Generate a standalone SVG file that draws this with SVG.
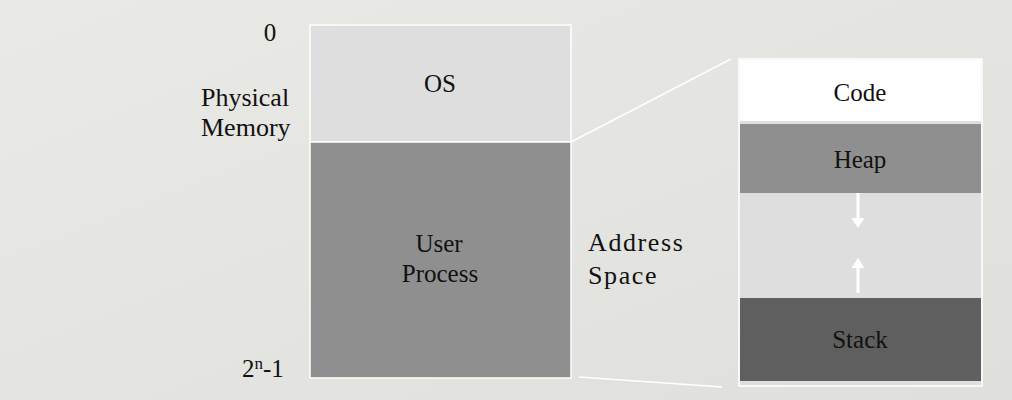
<svg xmlns="http://www.w3.org/2000/svg" width="1012" height="400" viewBox="0 0 1012 400">
  <defs>
    <linearGradient id="bg" x1="0" y1="0" x2="1" y2="1">
      <stop offset="0" stop-color="#e9e9e6"/>
      <stop offset="1" stop-color="#dfdfdb"/>
    </linearGradient>
  </defs>
  <style>
    text { font-family: "Liberation Serif", "Times New Roman", serif; fill: #111; font-size: 25px; }
    .c { text-anchor: middle; }
    .lbl { font-size: 26px; }
    .big { font-size: 26px; letter-spacing: 1.6px; }
    .blk { stroke: #ffffff; stroke-width: 1.5; }
    .conn { stroke: #ffffff; stroke-width: 1.5; fill: none; }
    .arrow { fill: #ffffff; }
  </style>
  <rect width="1012" height="400" fill="url(#bg)"/>

  <g id="physical-labels">
    <text x="270" y="41" class="c">0</text>
    <text x="201" y="106" class="lbl">Physical</text>
    <text x="201" y="136" class="lbl">Memory</text>
    <text x="242" y="377">2<tspan font-size="17" dy="-8">n</tspan><tspan dy="8">-1</tspan></text>
  </g>

  <g id="os">
    <rect class="blk" x="310" y="25" width="261" height="117" fill="#dedede"/>
    <text x="440" y="92" class="c">OS</text>
  </g>
  <g id="user-process">
    <rect class="blk" x="310" y="142" width="261" height="236" fill="#8f8f8f"/>
    <text x="439" y="252" class="c">User</text>
    <text x="440" y="282" class="c">Process</text>
  </g>

  <g id="address-space-label">
    <text x="588" y="251" class="big">Address</text>
    <text x="588" y="284" class="big">Space</text>
  </g>

  <g id="address-space">
    <rect class="blk" x="739" y="59" width="243" height="327" fill="#dedede"/>
    <g id="code">
      <rect x="740" y="60" width="241" height="61" fill="#ffffff"/>
      <text x="860" y="101" class="c">Code</text>
    </g>
    <g id="heap">
      <rect x="740" y="124" width="241" height="69" fill="#8f8f8f"/>
      <text x="860" y="168" class="c">Heap</text>
    </g>
    <g id="free">
      <rect x="740" y="194" width="241" height="104" fill="#dedede"/>
    </g>
    <g id="stack">
      <rect x="740" y="298" width="241" height="83" fill="#5f5f5f"/>
      <text x="860" y="348" class="c">Stack</text>
    </g>
  </g>

  <g id="connectors">
    <line class="conn" x1="571" y1="142" x2="731" y2="59"/>
    <line class="conn" x1="579" y1="377" x2="722" y2="387"/>
    <path class="arrow" d="M856.5 193 h3 v25 h5 l-6.5 10 l-6.5 -10 h5 z"/>
    <path class="arrow" d="M856.5 293 h3 v-25 h5 l-6.5 -10 l-6.5 10 h5 z"/>
  </g>
</svg>
